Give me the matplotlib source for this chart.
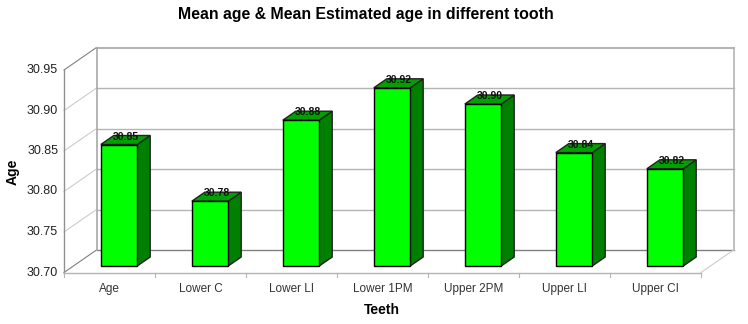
"""Mean age and mean estimated age per tooth, drawn as pseudo-3D bars."""
import matplotlib

matplotlib.use("Agg")
import matplotlib.pyplot as plt
from matplotlib.patches import Polygon
from matplotlib.transforms import IdentityTransform

plt.rcParams["font.family"] = ["Liberation Sans", "DejaVu Sans"]

teeth = ["Age", "Lower C", "Lower LI", "Lower 1PM", "Upper 2PM", "Upper LI", "Upper CI"]
ages = [30.85, 30.78, 30.88, 30.92, 30.90, 30.84, 30.82]
y_ticks = [30.70, 30.75, 30.80, 30.85, 30.90, 30.95]

W, H = 748, 324
WALL = (32.5, 22.5)  # px from front plane to back wall
BAR_SHIFT = (9.5, 6.5)  # front face of the bars
BAR_DEPTH = (13, 9)
BAR_WIDTH = 0.4
GRID = "#b4b4b4"
FLOOR = "#808080"

fig = plt.figure(figsize=(W / 100, H / 100), dpi=100)
ax = fig.add_axes([64 / W, (H - 272.5) / H, 637 / W, 202.5 / H])
ax.set_xlim(0, len(teeth))
ax.set_ylim(y_ticks[0], y_ticks[-1])
ax.axis("off")


def px(x, v, dx=0.0, dy=0.0):
    """Data point to display pixels, pushed back by an oblique offset."""
    a, b = ax.transData.transform((x, v))
    return a + dx, b + dy


def face(points, **kw):
    fig.add_artist(Polygon(points, closed=True, transform=IdentityTransform(), **kw))


def seg(p, q, color, lw=1.0, z=1):
    fig.add_artist(
        plt.Line2D(
            [p[0], q[0]], [p[1], q[1]], transform=IdentityTransform(),
            color=color, lw=lw, zorder=z,
        )
    )


# walls and grid
x_end = len(teeth)
for v in y_ticks:
    back_l = px(0, v, *WALL)
    floor_line = v == y_ticks[0]
    top_line = v == y_ticks[-1]
    col = FLOOR if floor_line else GRID
    seg(px(0, v), back_l, FLOOR if floor_line or top_line else "#cccccc", 0.8)
    seg(back_l, px(x_end, v, *WALL), col, 1.5 if top_line else 1.0)
    ax.text(-0.065, v, f"{v:.2f}", ha="right", va="center", fontsize=9, color="#222222")
seg(px(0, y_ticks[0]), px(0, y_ticks[-1]), "#909090", 1.0)
seg(px(0, y_ticks[0], *WALL), px(0, y_ticks[-1], *WALL), "#a8a8a8", 1.2)
seg(px(x_end, y_ticks[0], *WALL), px(x_end, y_ticks[-1], *WALL), GRID, 1.2)
seg(px(x_end, y_ticks[0]), px(x_end, y_ticks[0], *WALL), "#cccccc", 0.8)
seg(px(0, y_ticks[0]), px(x_end, y_ticks[0]), GRID, 1.0)
for i in range(len(teeth) + 1):
    seg(px(i, y_ticks[0]), px(i, y_ticks[0], dy=-4), GRID, 0.8)

# bars
base = y_ticks[0]
for i, (name, v) in enumerate(zip(teeth, ages)):
    l, r = i + 0.5 - BAR_WIDTH / 2, i + 0.5 + BAR_WIDTH / 2
    sx, sy = BAR_SHIFT
    bx, by = sx + BAR_DEPTH[0], sy + BAR_DEPTH[1]
    face(
        [px(r, base, sx, sy), px(r, v, sx, sy), px(r, v, bx, by), px(r, base, bx, by)],
        facecolor="#008000", edgecolor="#222222", lw=1.0, zorder=3,
    )
    face(
        [px(l, v, sx, sy), px(r, v, sx, sy), px(r, v, bx, by), px(l, v, bx, by)],
        facecolor="#00a000", edgecolor="#222222", lw=1.0, zorder=3,
    )
    face(
        [px(l, base, sx, sy), px(r, base, sx, sy), px(r, v, sx, sy), px(l, v, sx, sy)],
        facecolor="#00ff00", edgecolor="black", lw=1.0, zorder=4,
    )
    lx, ly = px(i + 0.5, v, sx + 6.5, sy + 8)
    fig.text(lx / W, ly / H, f"{v:.2f}", ha="center", va="center",
             fontsize=7.5, fontweight="bold", color="#111111", zorder=5)
    ax.text(i + 0.5, -19.5 / 202.5, name, ha="center", va="baseline", fontsize=8.5,
            color="#333333", transform=ax.get_xaxis_transform(), clip_on=False)

fig.text(366 / W, (H - 15) / H, "Mean age & Mean Estimated age in different tooth",
         ha="center", va="center", fontsize=11.4, fontweight="bold")
fig.text(13 / W, (H - 172) / H, "Age", rotation=90, ha="center", va="center",
         fontsize=10, fontweight="bold")
fig.text(382 / W, (H - 310) / H, "Teeth", ha="center", va="center",
         fontsize=10, fontweight="bold")

fig.savefig("out.png", dpi=100)
